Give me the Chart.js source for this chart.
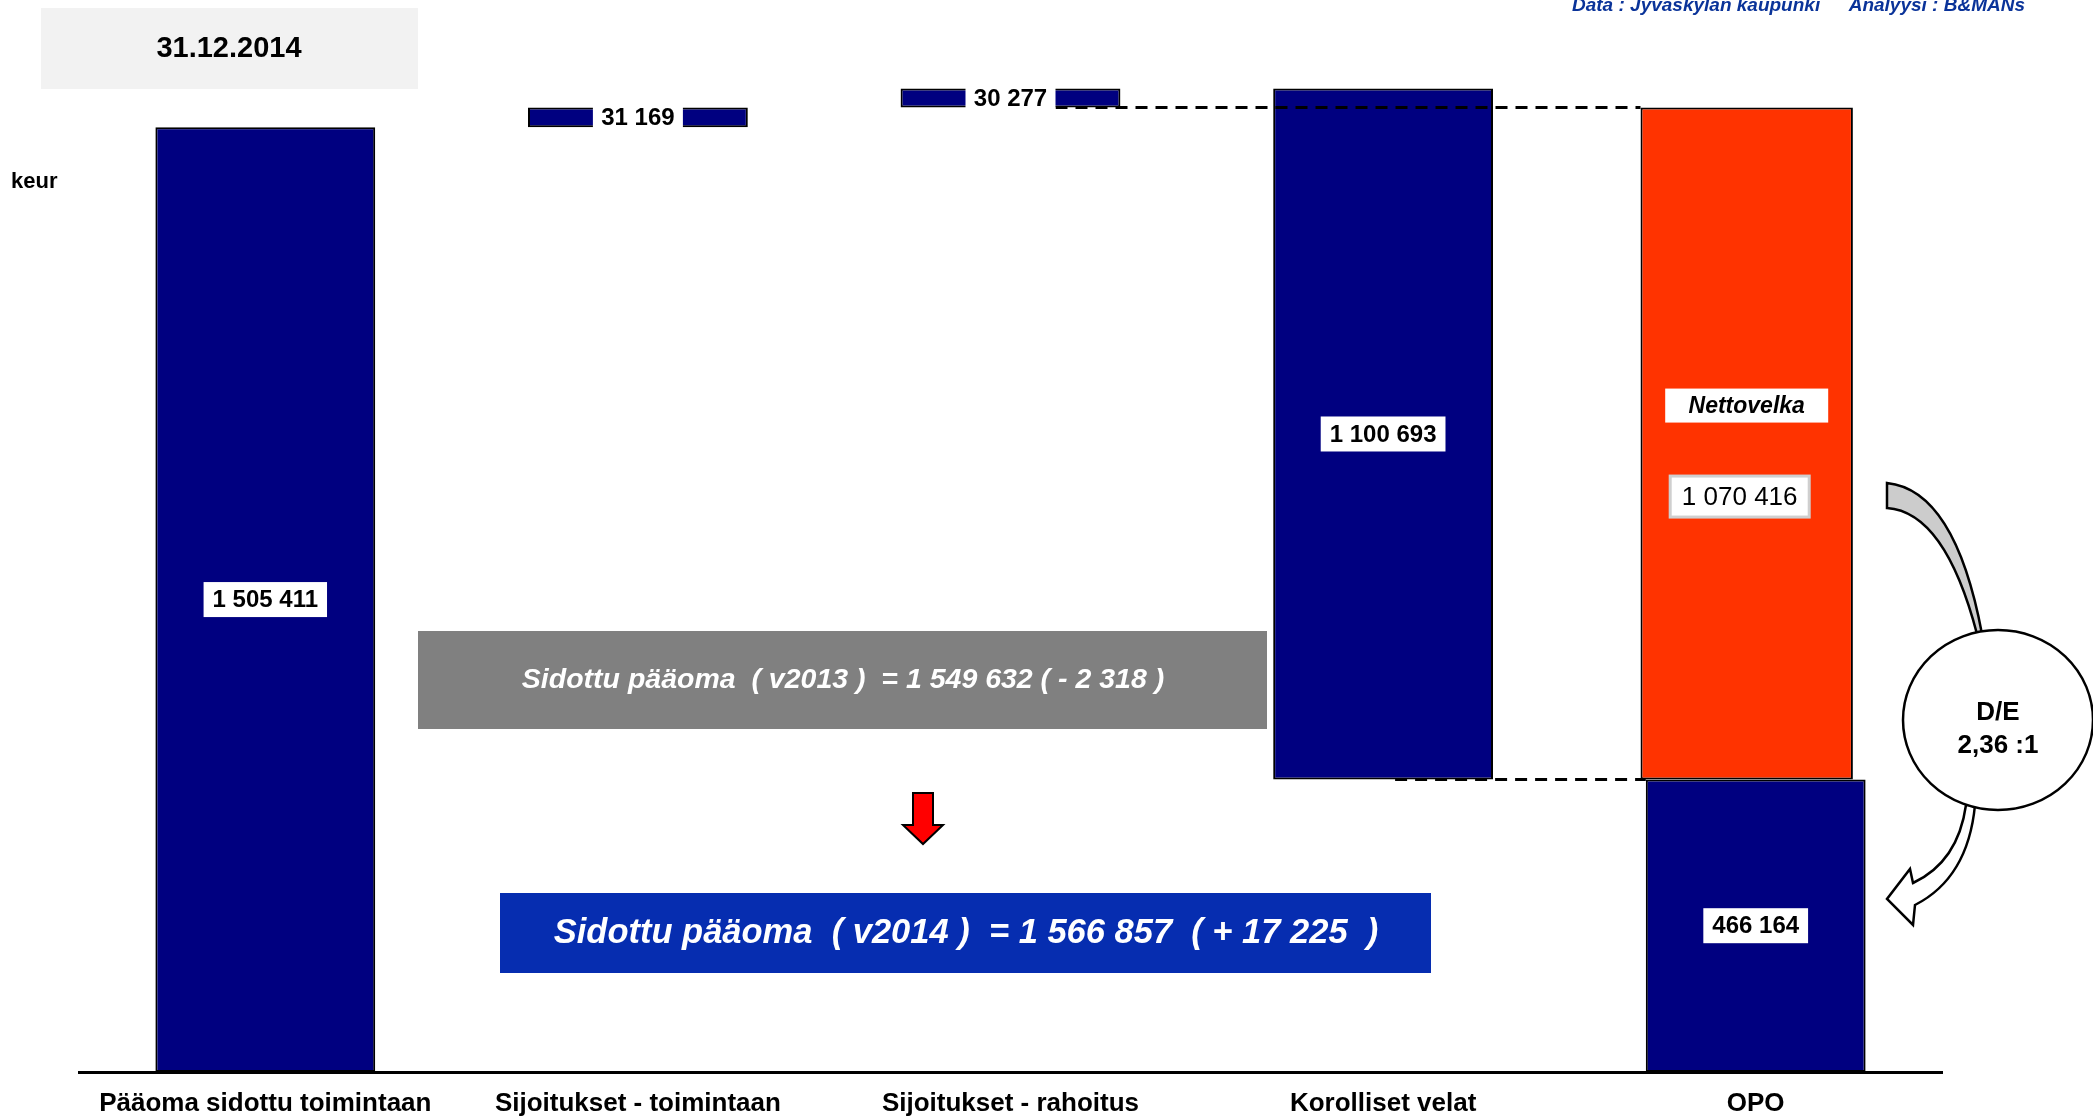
<!DOCTYPE html>
<html lang="fi">
<head>
<meta charset="utf-8">
<title>Sidottu pääoma 31.12.2014</title>
<script src="https://cdn.jsdelivr.net/npm/chart.js@4.4.1/dist/chart.umd.min.js"></script>
<style>
  html, body { margin: 0; padding: 0; background: #fff; overflow: hidden; }
  #wrap { width: 2093px; height: 1117px; }
</style>
</head>
<body>
<div id="wrap"><canvas id="myChart" width="2093" height="1117"></canvas></div>
<script>
// values in keur
const categories = ["Pääoma sidottu toimintaan", "Sijoitukset - toimintaan", "Sijoitukset - rahoitus", "Korolliset velat", "OPO"];
const amounts = [1505411, 31169, 30277, 1100693, 466164];
const netDebt = 1070416;
const capital2013 = 1549632;
const change2013 = 2318;
const capital2014 = 1566857;
const change2014 = 17225;
const debtToEquity = "2,36 :1";

const FONT = "'Liberation Sans', Arial, sans-serif";
const NAVY = "#000080";
const ORANGE = "#ff3300";
const DEBT_SHIFT = -9; // orange bar sits a bit left of the OPO bar

/*
 * Waterfall steps built from the amounts
 */
const total = amounts[0] + amounts[1] + amounts[2];
const steps = [
  [0, amounts[0]],
  [amounts[0], amounts[0] + amounts[1]],
  [amounts[0] + amounts[1], total],
  [total - amounts[3], total],
  [0, amounts[4]],
];
const netDebtStep = [null, null, null, null, [amounts[4], amounts[4] + netDebt]];

const fmt = (n) => String(n).replace(/\B(?=(\d{3})+(?!\d))/g, " ");

function labelBox(ctx, text, cx, cy, font, opts) {
  ctx.font = font;
  const w = opts.width || ctx.measureText(text).width + 18;
  const h = opts.height || 35;
  ctx.fillStyle = "#fff";
  ctx.fillRect(cx - w / 2, cy - h / 2, w, h);
  if (opts.border) {
    ctx.strokeStyle = opts.border;
    ctx.lineWidth = 3;
    ctx.strokeRect(cx - w / 2, cy - h / 2, w, h);
  }
  ctx.fillStyle = "#000";
  ctx.textAlign = "center";
  ctx.textBaseline = "middle";
  ctx.fillText(text, cx, cy + 1);
}

/*
 * Bar labels, dashed guide lines and the notes round the chart
 */
const barLabels = {
  id: "barLabels",
  beforeDatasetDraw(chart, args) {
    if (args.index === 1) {
      chart.ctx.save();
      chart.ctx.translate(DEBT_SHIFT, 0);
    }
  },
  afterDatasetDraw(chart, args) {
    if (args.index === 1) chart.ctx.restore();
  },
  afterDatasetsDraw(chart) {
    const ctx = chart.ctx;
    const bars = chart.getDatasetMeta(0).data;
    const debt = chart.getDatasetMeta(1).data[4];
    const debtX = debt.x + DEBT_SHIFT;
    ctx.save();

    // dashed lines
    ctx.strokeStyle = "#000";
    ctx.lineWidth = 3;
    ctx.setLineDash([12, 8]);
    ctx.beginPath();
    ctx.moveTo(bars[2].x + 45, bars[2].base);
    ctx.lineTo(debtX - debt.width / 2, bars[2].base);
    ctx.moveTo(bars[3].x + 12, bars[3].base);
    ctx.lineTo(bars[4].x - bars[4].width / 2, bars[3].base);
    ctx.stroke();
    ctx.setLineDash([]);

    bars.forEach((bar, i) => {
      const cy = (bar.y + bar.base) / 2;
      const small = i === 1 || i === 2;
      labelBox(ctx, fmt(amounts[i]), bar.x, cy, "bold 24px " + FONT,
        small ? { width: 90, height: Math.abs(bar.base - bar.y) + 4 } : {});
    });

    // net debt labels inside the orange bar
    labelBox(ctx, "Nettovelka", debtX, debt.y + 298, "italic bold 23px " + FONT, { width: 163, height: 34 });
    labelBox(ctx, fmt(netDebt), debtX - 7, debt.y + 389, "26px " + FONT, { width: 139, height: 41, border: "#cfcfcf" });
    ctx.restore();
  },
  afterDraw(chart) {
    const ctx = chart.ctx;
    ctx.save();
    ctx.textBaseline = "middle";

    // date box
    ctx.fillStyle = "#f2f2f2";
    ctx.fillRect(41, 8, 377, 81);
    ctx.fillStyle = "#000";
    ctx.font = "bold 29px " + FONT;
    ctx.textAlign = "center";
    ctx.fillText("31.12.2014", 229, 49);

    // unit
    ctx.font = "bold 22px " + FONT;
    ctx.textAlign = "left";
    ctx.fillText("keur", 11, 182);

    // source
    ctx.fillStyle = "#0a3399";
    ctx.font = "italic bold 19px " + FONT;
    ctx.textBaseline = "alphabetic";
    ctx.fillText("Data : Jyväskylän kaupunki", 1572, 11);
    ctx.textAlign = "right";
    ctx.fillText("Analyysi : B&MANs", 2025, 11);

    // 2013 box
    ctx.textAlign = "center";
    ctx.textBaseline = "middle";
    ctx.fillStyle = "#808080";
    ctx.fillRect(418, 631, 849, 98);
    ctx.fillStyle = "#fff";
    ctx.font = "italic bold 28.5px " + FONT;
    ctx.fillText("Sidottu pääoma  ( v2013 )  = " + fmt(capital2013) + " ( - " + fmt(change2013) + " )", 843, 680);

    // 2014 box
    ctx.fillStyle = "#062db0";
    ctx.fillRect(500, 893, 931, 80);
    ctx.fillStyle = "#fff";
    ctx.font = "italic bold 34.5px " + FONT;
    ctx.fillText("Sidottu pääoma  ( v2014 )  = " + fmt(capital2014) + "  ( + " + fmt(change2014) + "  )", 966, 933);

    // red arrow
    ctx.beginPath();
    ctx.moveTo(913, 793);
    ctx.lineTo(933, 793);
    ctx.lineTo(933, 825);
    ctx.lineTo(943, 825);
    ctx.lineTo(923, 844);
    ctx.lineTo(903, 825);
    ctx.lineTo(913, 825);
    ctx.closePath();
    ctx.fillStyle = "#ff0000";
    ctx.fill();
    ctx.strokeStyle = "#000";
    ctx.lineWidth = 2;
    ctx.stroke();

    // curved arrow into the ratio
    ctx.beginPath();
    ctx.moveTo(1887, 483);
    ctx.quadraticCurveTo(1955, 490, 1982, 634);
    ctx.lineTo(1977, 634);
    ctx.quadraticCurveTo(1945, 512, 1887, 508);
    ctx.closePath();
    ctx.fillStyle = "#cccccc";
    ctx.fill();
    ctx.lineWidth = 2.5;
    ctx.stroke();

    // curved arrow out of the ratio
    ctx.beginPath();
    ctx.moveTo(1966, 805);
    ctx.quadraticCurveTo(1958, 862, 1913, 883);
    ctx.lineTo(1910, 869);
    ctx.lineTo(1887, 899);
    ctx.lineTo(1913, 925);
    ctx.lineTo(1915, 905);
    ctx.quadraticCurveTo(1968, 878, 1975, 805);
    ctx.closePath();
    ctx.fillStyle = "#fff";
    ctx.fill();
    ctx.stroke();

    // D/E ellipse
    ctx.beginPath();
    ctx.ellipse(1998, 720, 95, 90, 0, 0, Math.PI * 2);
    ctx.fillStyle = "#fff";
    ctx.fill();
    ctx.lineWidth = 2.5;
    ctx.stroke();
    ctx.fillStyle = "#000";
    ctx.font = "bold 26px " + FONT;
    ctx.fillText("D/E", 1998, 713);
    ctx.fillText(debtToEquity, 1998, 746);
    ctx.restore();
  },
};

Chart.defaults.font.family = FONT;

const config = {
  type: "bar",
  data: {
    labels: categories,
    datasets: [
      {
        data: steps,
        backgroundColor: NAVY,
        borderColor: "#000",
        borderWidth: 2,
        borderSkipped: false,
        grouped: false,
        categoryPercentage: 1,
        barPercentage: 0.59,
      },
      {
        data: netDebtStep,
        backgroundColor: ORANGE,
        borderColor: "#000",
        borderWidth: 2,
        borderSkipped: false,
        grouped: false,
        categoryPercentage: 1,
        barPercentage: 0.57,
      },
    ],
  },
  options: {
    responsive: false,
    animation: false,
    layout: {
      padding: { left: 79, right: 151, top: 5, bottom: -19 },
    },
    scales: {
      x: {
        grid: { display: false, drawTicks: false },
        border: { display: true, color: "#000", width: 3 },
        ticks: {
          color: "#000",
          padding: 19,
          font: { size: 26, weight: "bold", lineHeight: 1 },
        },
      },
      y: {
        display: false,
        min: 0,
        max: 1700000,
      },
    },
    plugins: {
      legend: { display: false },
      tooltip: { enabled: false },
    },
  },
  plugins: [barLabels],
};

new Chart(document.getElementById("myChart"), config);
</script>
</body>
</html>
